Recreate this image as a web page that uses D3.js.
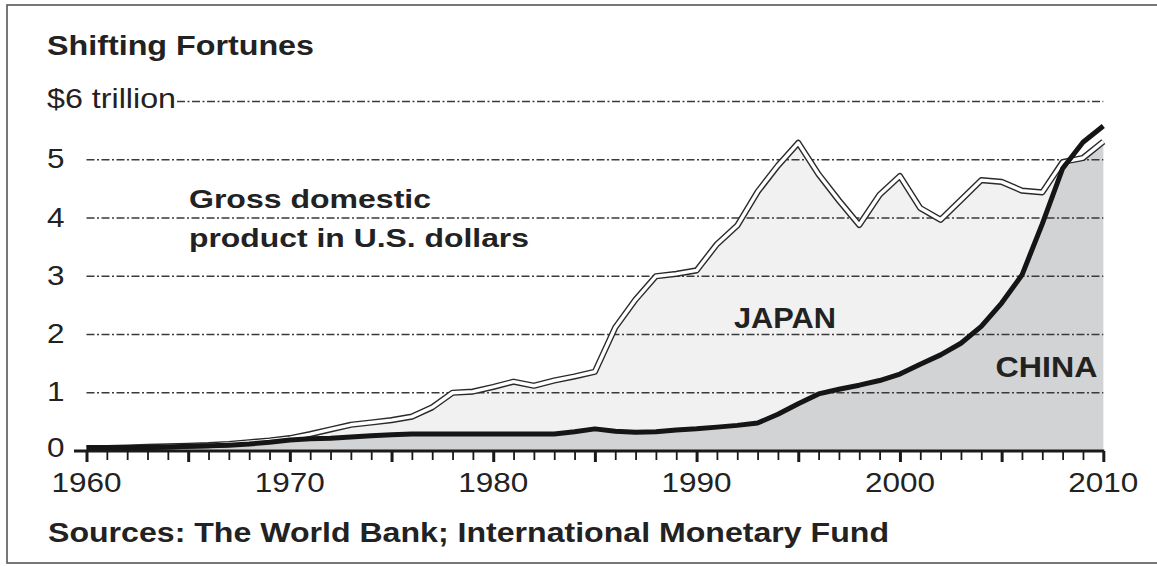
<!DOCTYPE html>
<html>
<head>
<meta charset="utf-8">
<script src="https://cdn.jsdelivr.net/npm/d3@7"></script>
<style>
  html, body { margin: 0; padding: 0; background: #fff; }
  svg { display: block; }
  text { font-family: "Liberation Sans", Arial, Helvetica, sans-serif; fill: #222; }
</style>
</head>
<body>
<svg id="chart" width="1157" height="566"></svg>
<script>
// ---- data, trillions of US$ ----
const years = d3.range(1960, 2011);
const japan = [
  0.04, 0.05, 0.06, 0.07, 0.08, 0.09, 0.10, 0.12, 0.15, 0.18,
  0.22, 0.29, 0.37, 0.45, 0.49, 0.53, 0.59, 0.75, 1.00, 1.02,
  1.10, 1.19, 1.12, 1.21, 1.28, 1.36, 2.12, 2.60, 3.00, 3.04,
  3.10, 3.55, 3.87, 4.45, 4.90, 5.29, 4.75, 4.30, 3.88, 4.40,
  4.72, 4.17, 3.97, 4.31, 4.65, 4.62, 4.47, 4.44, 4.96, 5.03,
  5.31
];
const china = [
  0.06, 0.06, 0.06, 0.06, 0.07, 0.08, 0.09, 0.10, 0.12, 0.15,
  0.19, 0.21, 0.22, 0.24, 0.26, 0.28, 0.29, 0.29, 0.29, 0.29,
  0.29, 0.29, 0.29, 0.29, 0.33, 0.38, 0.34, 0.32, 0.33, 0.36,
  0.38, 0.41, 0.44, 0.48, 0.63, 0.81, 0.98, 1.06, 1.13, 1.21,
  1.32, 1.49, 1.65, 1.85, 2.14, 2.54, 3.02, 3.90, 4.85, 5.30,
  5.58
];
const yTicks = [1, 2, 3, 4, 5, 6];
const yTickLabels = ["1", "2", "3", "4", "5", "$6 trillion"];
const xLabelYears = [1960, 1970, 1980, 1990, 2000, 2010];
const title = "Shifting Fortunes";
const noteLines = ["Gross domestic", "product in U.S. dollars"];
const source = "Sources: The World Bank; International Monetary Fund";

// ---- layout ----
const svg = d3.select("#chart");
const x = d3.scaleLinear().domain([1960, 2010]).range([86.5, 1103.3]);
const y = d3.scaleLinear().domain([0, 6]).range([451, 101.5]);

const rows = years.map((yr, i) => ({ yr, jp: japan[i], cn: china[i] }));

// frame (right edge runs off the picture)
svg.append("rect")
  .attr("x", 7).attr("y", 5).attr("width", 1200).attr("height", 558)
  .attr("fill", "none").attr("stroke", "#555").attr("stroke-width", 1.6);

// areas
svg.append("path").datum(rows)
  .attr("fill", "#f1f1f1")
  .attr("d", d3.area().x(d => x(d.yr)).y0(y(0)).y1(d => y(d.jp)));
svg.append("path").datum(rows)
  .attr("fill", "#d2d3d5")
  .attr("d", d3.area().x(d => x(d.yr)).y0(y(0)).y1(d => y(Math.min(d.cn, d.jp))));

// gridlines (dash-dot)
svg.append("g").selectAll("line").data(yTicks).join("line")
  .attr("x1", d => d === 6 ? 177 : x(1960))
  .attr("x2", x(2010))
  .attr("y1", d => y(d)).attr("y2", d => y(d))
  .attr("stroke", "#3a3a3a").attr("stroke-width", 1.3)
  .attr("stroke-dasharray", "8,2.5,2,2.5");

// Japan: white line with dark outline
const jpLine = d3.line().x(d => x(d.yr)).y(d => y(d.jp));
svg.append("path").datum(rows)
  .attr("fill", "none").attr("stroke", "#2a2a2a").attr("stroke-width", 6.2)
  .attr("stroke-linejoin", "round").attr("d", jpLine);
svg.append("path").datum(rows)
  .attr("fill", "none").attr("stroke", "#fff").attr("stroke-width", 3.4)
  .attr("stroke-linejoin", "round").attr("d", jpLine);

// x axis
const axis = svg.append("g").attr("transform", `translate(0,${y(0)})`)
  .call(d3.axisBottom(x).tickValues(years).tickSize(10).tickSizeOuter(0).tickFormat(""));
axis.select(".domain").remove();
axis.selectAll(".tick line")
  .attr("stroke", "#1a1a1a")
  .attr("stroke-width", d => d % 5 === 0 ? 3 : 1.8)
  .attr("y2", d => d % 5 === 0 ? 11 : 9);
svg.append("line")
  .attr("x1", 74).attr("x2", x(2010) + 1)
  .attr("y1", y(0)).attr("y2", y(0))
  .attr("stroke", "#1a1a1a").attr("stroke-width", 3);

// China: thick black line
svg.append("path").datum(rows)
  .attr("fill", "none").attr("stroke", "#151515").attr("stroke-width", 5)
  .attr("stroke-linejoin", "round").attr("stroke-linecap", "butt")
  .attr("d", d3.line().x(d => x(d.yr)).y(d => y(d.cn)));

// helper for stretched text
function txt(s, xx, yy, size, weight, len, anchor) {
  const t = svg.append("text")
    .attr("x", xx).attr("y", yy)
    .attr("font-size", size).attr("font-weight", weight)
    .text(s);
  if (len) t.attr("textLength", len).attr("lengthAdjust", "spacingAndGlyphs");
  if (anchor) t.attr("text-anchor", anchor);
  return t;
}

// y labels
yTicks.forEach((v, i) => {
  const lab = yTickLabels[i];
  if (v === 6) txt(lab, 47, y(v) + 6, 28, "normal", 129);
  else txt(lab, 47, y(v) + 8.5, 28, "normal", 17.5);
});
txt("0", 47, y(0) + 6, 28, "normal", 17.5);

// x labels
xLabelYears.forEach(yr => {
  txt(String(yr), x(yr) - 35, 491.5, 28, "normal", 70);
});

// titles and notes
txt(title, 47, 55, 28, "bold", 267);
txt(noteLines[0], 189, 207.5, 26, "bold", 242);
txt(noteLines[1], 189, 246.5, 26, "bold", 340);
txt("JAPAN", 734, 328, 30, "bold", 102);
txt("CHINA", 995.5, 376.5, 30, "bold", 102);
txt(source, 48, 541.5, 27, "bold", 841);
</script>
</body>
</html>
